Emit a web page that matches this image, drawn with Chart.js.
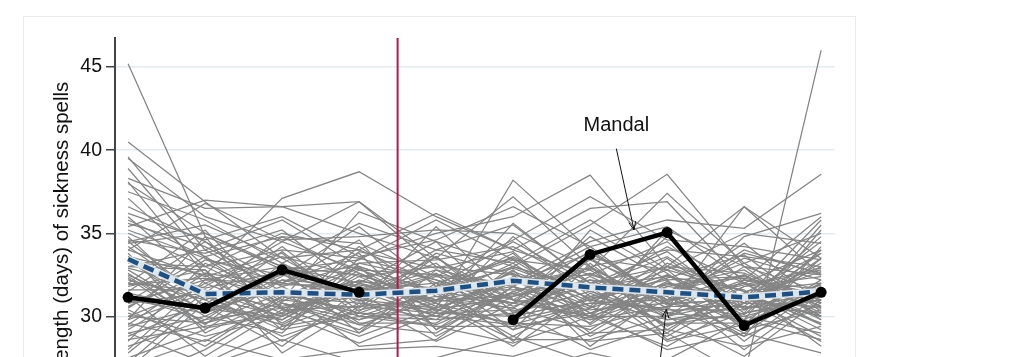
<!DOCTYPE html>
<html>
<head>
<meta charset="utf-8">
<script src="https://cdn.jsdelivr.net/npm/chart.js@4/dist/chart.umd.min.js"></script>
<style>
  html, body { margin:0; padding:0; background:#fff; overflow:hidden; width:1024px; height:357px; }
  #card { position:absolute; left:23px; top:16px; width:831px; height:600px; border:1px solid #ebebeb; background:#fff; }
  #c { position:absolute; left:0; top:0; }
</style>
</head>
<body>
<div id="card"></div>
<canvas id="c" width="1024" height="496"></canvas>
<script>
// ---- data ----
const periods = ['P1','P2','P3','P4','P5','P6','P7','P8','P9','P10'];
const yTicks = [30, 35, 40, 45];
const reformPosition = 3.5;
const mandal = [31.15, 30.5, 32.8, 31.45, null, 29.8, 33.73, 35.05, 29.45, 31.45];
const average = [33.45, 31.35, 31.45, 31.3, 31.55, 32.15, 31.75, 31.45, 31.15, 31.5];
const municipalities = [
  [45.2, 34.8, 33.0, 32.5, 31.0, 31.8, 30.5, 32.0, 31.2, 30.0],
  [40.5, 36.9, 33.5, 34.0, 32.0, 33.5, 31.0, 32.5, 30.5, 31.5],
  [39.6, 34.0, 35.8, 33.0, 31.5, 30.8, 33.5, 31.0, 32.0, 34.0],
  [39.5, 36.0, 34.5, 36.9, 33.0, 32.5, 31.5, 30.0, 33.0, 32.5],
  [38.9, 33.5, 32.0, 31.5, 34.0, 35.5, 32.0, 33.0, 31.0, 30.5],
  [38.3, 36.5, 36.6, 35.0, 33.5, 31.0, 30.0, 31.5, 29.5, 33.5],
  [38.1, 32.5, 37.1, 38.7, 36.0, 34.0, 32.5, 34.5, 30.5, 31.0],
  [38.0, 35.0, 33.0, 32.0, 30.5, 38.2, 34.0, 31.0, 32.5, 30.0],
  [37.1, 33.0, 34.0, 33.5, 35.0, 36.0, 38.5, 33.0, 31.5, 32.0],
  [36.6, 34.5, 31.0, 36.3, 34.5, 33.0, 35.5, 38.55, 33.0, 31.5],
  [35.4, 37.0, 36.6, 36.9, 33.5, 37.2, 33.0, 30.5, 36.6, 32.5],
  [35.0, 33.0, 35.0, 34.0, 36.2, 34.0, 36.5, 36.9, 32.0, 29.5],
  [34.5, 35.5, 33.5, 31.0, 32.5, 32.0, 34.5, 35.8, 35.3, 38.55],
  [32.0, 31.5, 30.5, 31.5, 30.0, 29.5, 28.5, 29.0, 26.4, 46.0],
  [34.2, 31.0, 32.5, 33.0, 31.5, 33.0, 31.5, 33.0, 36.6, 33.5],
  [33.5, 31.2, 30.0, 32.4, 33.0, 31.0, 29.8, 30.6, 32.2, 31.0],
  [33.0, 34.0, 31.5, 30.2, 31.8, 34.5, 32.0, 29.5, 30.8, 33.2],
  [32.6, 29.5, 33.2, 31.0, 30.5, 32.0, 33.8, 31.2, 29.0, 32.0],
  [31.8, 32.8, 29.2, 33.5, 32.2, 30.0, 31.0, 32.8, 31.5, 29.2],
  [31.0, 30.2, 31.8, 29.5, 31.0, 33.2, 30.2, 31.5, 33.2, 30.5],
  [30.5, 33.4, 32.5, 31.2, 29.5, 31.5, 32.8, 30.0, 31.0, 34.5],
  [30.0, 31.8, 34.5, 32.8, 32.5, 29.2, 30.5, 33.5, 30.2, 31.2],
  [29.6, 28.5, 31.0, 30.5, 33.8, 32.5, 29.0, 31.8, 32.8, 30.0],
  [29.2, 32.0, 30.2, 34.2, 31.2, 30.5, 33.0, 29.2, 31.8, 32.8],
  [28.8, 30.8, 29.5, 31.8, 30.2, 34.8, 31.2, 32.2, 28.5, 31.8],
  [28.2, 29.8, 32.8, 29.0, 32.8, 31.8, 34.2, 30.8, 30.0, 29.0],
  [27.8, 31.5, 28.5, 30.8, 29.8, 30.2, 31.5, 34.2, 32.0, 30.8],
  [34.8, 30.5, 29.8, 32.2, 30.8, 29.5, 30.8, 31.0, 34.0, 32.5],
  [34.0, 32.4, 33.8, 30.0, 31.5, 33.8, 29.5, 32.5, 29.8, 35.2],
  [33.8, 29.0, 31.2, 33.0, 28.8, 31.2, 32.2, 30.2, 31.2, 28.8],
  [33.2, 33.0, 30.8, 29.2, 32.0, 28.5, 33.2, 29.8, 30.6, 33.8],
  [32.8, 30.0, 32.2, 31.8, 30.0, 32.8, 28.2, 31.5, 32.5, 30.2],
  [32.2, 31.0, 28.8, 30.4, 31.2, 30.8, 31.8, 28.5, 29.5, 31.5],
  [31.5, 34.5, 32.0, 33.8, 29.2, 31.5, 30.0, 33.2, 31.5, 29.5],
  [31.2, 29.8, 30.5, 28.8, 30.5, 32.2, 32.5, 31.2, 33.5, 32.2],
  [30.8, 32.2, 33.0, 31.5, 33.2, 29.8, 30.8, 30.5, 28.8, 30.8],
  [30.2, 28.8, 30.0, 32.0, 31.0, 30.5, 29.2, 32.0, 30.8, 33.0],
  [29.8, 31.4, 31.6, 30.0, 29.8, 33.0, 31.6, 29.0, 32.2, 31.6],
  [29.0, 30.0, 29.0, 33.2, 32.2, 31.0, 30.4, 30.8, 31.0, 28.5],
  [28.5, 33.2, 31.2, 29.8, 31.5, 29.2, 33.5, 32.8, 29.2, 30.4],
  [27.5, 29.2, 32.2, 31.0, 28.5, 30.8, 30.0, 30.0, 31.8, 32.4],
  [26.8, 30.8, 29.8, 32.6, 30.8, 28.2, 31.4, 29.5, 30.2, 31.0],
  [26.0, 28.0, 30.8, 29.5, 29.0, 31.8, 28.8, 31.0, 32.0, 29.8],
  [35.2, 33.5, 30.5, 31.2, 32.6, 30.0, 31.0, 29.8, 30.0, 31.2],
  [34.5, 31.0, 34.2, 30.6, 31.0, 32.6, 30.2, 31.8, 31.2, 30.0],
  [33.6, 32.5, 29.6, 32.0, 34.5, 30.2, 32.4, 30.2, 29.8, 32.0],
  [32.4, 29.6, 31.4, 30.2, 30.0, 31.4, 29.6, 33.0, 32.6, 30.6],
  [31.6, 31.6, 30.0, 32.8, 31.4, 28.8, 31.2, 30.4, 30.4, 33.5],
  [31.4, 30.4, 32.6, 29.6, 29.6, 32.4, 30.6, 28.8, 31.4, 29.6],
  [30.6, 32.6, 30.6, 31.4, 32.8, 30.6, 32.2, 31.6, 28.0, 31.4],
  [30.4, 28.2, 31.2, 30.8, 30.4, 29.6, 29.4, 30.6, 30.6, 30.2],
  [29.4, 30.6, 28.2, 31.6, 31.6, 31.6, 31.8, 32.4, 31.6, 28.2],
  [28.6, 29.4, 30.2, 28.4, 30.2, 30.4, 28.0, 29.6, 29.6, 31.8],
  [27.2, 31.2, 29.2, 30.0, 29.4, 28.4, 30.0, 28.2, 30.8, 30.6],
  [36.0, 32.0, 33.6, 32.4, 30.4, 31.2, 32.6, 30.8, 33.8, 32.6],
  [35.6, 34.2, 31.8, 33.2, 33.4, 34.2, 31.8, 33.6, 30.8, 34.8],
  [34.6, 33.8, 35.2, 31.6, 32.0, 30.8, 34.8, 32.2, 32.4, 31.0],
  [33.4, 30.2, 32.4, 35.4, 31.8, 33.4, 30.6, 34.8, 31.0, 35.8],
  [32.0, 35.2, 30.4, 30.6, 35.4, 31.0, 33.4, 31.4, 34.4, 30.8],
  [30.8, 31.4, 34.8, 32.6, 30.6, 35.6, 32.0, 29.4, 31.4, 33.8],
  [29.8, 34.8, 29.4, 31.0, 33.6, 29.8, 35.2, 32.6, 29.4, 32.2],
  [28.0, 32.2, 32.0, 34.6, 29.2, 32.2, 30.0, 35.2, 33.0, 29.8],
  [31.2, 27.6, 30.4, 29.0, 31.6, 33.6, 31.0, 30.4, 34.8, 36.2],
  [33.0, 32.8, 27.8, 30.6, 30.2, 30.0, 33.6, 28.6, 30.2, 35.5],
  [32.5, 30.4, 31.6, 28.2, 28.6, 31.8, 29.8, 31.4, 28.8, 34.2],
  [30.0, 29.6, 30.8, 29.8, 30.8, 28.6, 28.6, 30.0, 27.6, 31.0],
  [29.0, 27.2, 29.4, 30.2, 29.4, 29.4, 30.2, 28.0, 29.0, 27.8],
  [27.0, 28.6, 27.4, 28.0, 28.2, 27.6, 29.0, 29.2, 28.2, 29.4],
  [26.5, 27.0, 28.6, 27.2, 27.5, 28.8, 27.2, 27.4, 29.8, 28.6],
  [25.5, 26.4, 26.8, 26.5, 26.8, 26.5, 27.8, 26.8, 27.0, 27.0],
  [34.0, 36.8, 34.6, 34.8, 35.2, 35.0, 33.0, 34.0, 33.6, 33.0],
  [37.5, 35.8, 33.2, 35.6, 34.0, 33.2, 35.8, 32.8, 35.0, 34.4],
  [36.2, 34.6, 36.0, 33.6, 34.6, 36.6, 34.2, 35.4, 32.2, 36.0],
  [35.8, 33.6, 34.8, 34.4, 32.4, 34.6, 37.2, 34.6, 34.2, 33.4],
  [34.4, 35.0, 32.8, 33.4, 35.8, 33.4, 32.8, 37.4, 33.2, 35.0],
  [31.9, 32.3, 31.3, 32.1, 31.7, 32.9, 31.1, 31.9, 32.3, 31.3],
  [32.9, 31.7, 32.7, 30.9, 32.4, 31.9, 32.9, 30.7, 31.1, 32.7],
  [30.9, 33.6, 30.9, 32.9, 30.3, 32.7, 30.9, 32.3, 33.7, 30.3],
  [33.3, 30.7, 33.9, 30.3, 33.6, 30.3, 31.9, 33.9, 30.4, 31.9],
  [29.5, 32.6, 31.9, 31.9, 30.9, 31.3, 33.9, 30.9, 31.9, 32.9],
  [32.3, 29.3, 30.1, 33.9, 32.9, 33.9, 29.9, 32.1, 30.1, 34.0]
];

// ---- chart ----
const Y_MIN = 21, Y_MAX = 46.75;
const toXY = arr => arr.map((v, i) => ({ x: i, y: v }));
const FONT = "'Liberation Sans', Arial, Helvetica, sans-serif";

const datasets = [
  { label: 'Mandal', data: toXY(mandal), borderColor: '#000', backgroundColor: '#000',
    borderWidth: 4.5, pointRadius: 5.5, pointBorderWidth: 0, spanGaps: false, order: 0 },
  { label: 'Average', data: toXY(average), borderColor: '#224f7e', borderWidth: 4.5,
    borderDash: [11, 6], pointRadius: 0, order: 1 },
  { label: 'halo', data: toXY(average), borderColor: 'rgba(222,233,242,0.95)', borderWidth: 7.5,
    pointRadius: 0, order: 2 },
  { label: 'reform', data: [{ x: reformPosition, y: Y_MIN }, { x: reformPosition, y: Y_MAX }],
    borderColor: '#b3184a', borderWidth: 2, pointRadius: 0, order: 3 }
];
municipalities.forEach((row, k) => datasets.push({
  label: 'm' + k, data: toXY(row), borderColor: 'rgb(132,132,132)', borderWidth: 1.25,
  pointRadius: 0, order: 4
}));

const annotate = {
  id: 'annotate',
  afterDatasetsDraw(chart) {
    const { ctx, scales: { x, y } } = chart;
    ctx.save();
    ctx.fillStyle = '#111';
    ctx.font = '20px ' + FONT;
    ctx.textAlign = 'center';
    ctx.textBaseline = 'alphabetic';
    ctx.fillText('Mandal', x.getPixelForValue(6.34), y.getPixelForValue(41.15));
    const arrow = (x1, y1, x2, y2) => {
      const px1 = x.getPixelForValue(x1), py1 = y.getPixelForValue(y1);
      const px2 = x.getPixelForValue(x2), py2 = y.getPixelForValue(y2);
      ctx.strokeStyle = '#111'; ctx.lineWidth = 1;
      ctx.beginPath(); ctx.moveTo(px1, py1); ctx.lineTo(px2, py2); ctx.stroke();
      const a = Math.atan2(py2 - py1, px2 - px1), L = 9, w = 0.4;
      ctx.beginPath();
      ctx.moveTo(px2 - L * Math.cos(a - w), py2 - L * Math.sin(a - w));
      ctx.lineTo(px2, py2);
      ctx.lineTo(px2 - L * Math.cos(a + w), py2 - L * Math.sin(a + w));
      ctx.stroke();
    };
    arrow(6.34, 40.1, 6.57, 35.2);
    arrow(6.86, 25.5, 6.99, 30.42);
    ctx.restore();
  }
};

new Chart(document.getElementById('c'), {
  type: 'line',
  data: { labels: periods, datasets },
  options: {
    responsive: false, animation: false, devicePixelRatio: 1,
    layout: { padding: { top: 38, left: 23, right: 189, bottom: 30 } },
    plugins: { legend: { display: false }, tooltip: { enabled: false } },
    elements: { line: { tension: 0 } },
    scales: {
      x: { type: 'linear', min: -0.17, max: 9.18, display: false },
      y: {
        min: Y_MIN, max: Y_MAX,
        afterFit(s) { s.width = 92; },
        afterBuildTicks(s) { s.ticks = yTicks.map(v => ({ value: v })); },
        border: { color: '#444', width: 2 },
        grid: { color: '#e4ebef', lineWidth: 1.5, tickColor: '#444', tickLength: 9, tickWidth: 1.5 },
        ticks: { padding: 4, color: '#111', font: { family: FONT, size: 19.5 } },
        title: { display: true, text: 'Mean length (days) of sickness spells', color: '#111',
                 font: { family: FONT, size: 20.5 }, padding: { top: 27, bottom: 0 } }
      }
    }
  },
  plugins: [annotate]
});
</script>
</body>
</html>
